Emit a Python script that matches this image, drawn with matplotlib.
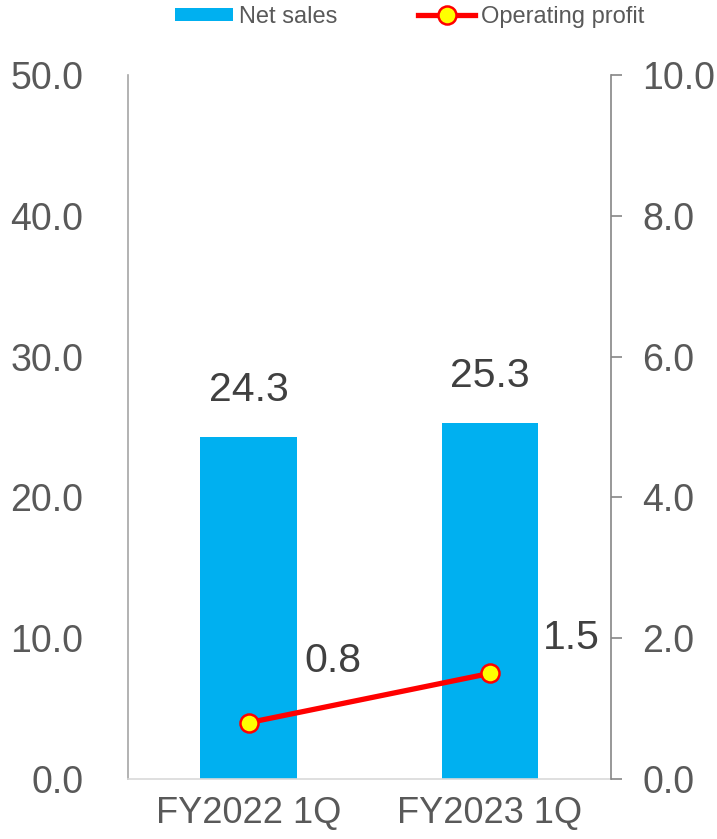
import matplotlib
matplotlib.use("Agg")
import matplotlib.pyplot as plt
from matplotlib.lines import Line2D
from matplotlib.patches import Patch

plt.rcParams['font.family'] = ['Liberation Sans', 'DejaVu Sans']

categories = ["FY2022 1Q", "FY2023 1Q"]
net_sales = [24.3, 25.3]
operating_profit = [0.8, 1.5]
left_ticks = [0, 10, 20, 30, 40, 50]
right_ticks = [0, 2, 4, 6, 8, 10]

# label offsets (pixels) - style only
bar_label_offset = 47
op_label_offsets = [(84, 62), (81, 35)]

W, H = 717, 839
fig = plt.figure(figsize=(W / 100, H / 100), dpi=100)
ax = fig.add_axes([128 / W, 1 - 779 / H, (610.5 - 128) / W, (779 - 75) / H])
ax2 = ax.twinx()

x = list(range(len(categories)))
ax.bar(x, net_sales, width=0.4, color="#00B0F0", zorder=2)
ax.set_xlim(-0.5, 1.5)
ax.set_ylim(0, 50)
ax.set_yticks(left_ticks)
ax.set_yticklabels([f"{v:.1f}" for v in left_ticks])
ax.set_xticks(x)
ax.set_xticklabels(categories)

ax2.plot(x, operating_profit, color="#FF0000", lw=3.8, marker="o", ms=13,
         mfc="#FFFF00", mec="#FF0000", mew=1.8, zorder=3)
ax2.set_ylim(0, 10)
ax2.set_yticks(right_ticks)
ax2.set_yticklabels([f"{v:.1f}" for v in right_ticks])

tick_color = "#595959"
for a in (ax, ax2):
    for s in a.spines.values():
        s.set_visible(False)
    a.tick_params(labelsize=27, colors=tick_color)
ax.tick_params(axis='x', labelsize=26)

ax.spines['left'].set_visible(True)
ax.spines['left'].set_color("#A6A6A6")
ax.spines['left'].set_linewidth(1.2)
ax.spines['bottom'].set_visible(True)
ax.spines['bottom'].set_color("#D9D9D9")
ax.spines['bottom'].set_linewidth(1.2)
ax.tick_params(axis='y', length=0, pad=32)
ax.tick_params(axis='x', length=0, pad=12)
ax2.spines['right'].set_visible(True)
ax2.spines['right'].set_color("#868686")
ax2.spines['right'].set_linewidth(1.2)
ax2.tick_params(axis='y', length=7.8, width=1.2, color="#868686", direction='out', pad=15)

for xi, v in zip(x, net_sales):
    ax.annotate(f"{v:.1f}", (xi, v), xytext=(0, bar_label_offset), textcoords='offset pixels',
                ha='center', va='center', fontsize=29.5, color="#404040")
for xi, v, (dx, dy) in zip(x, operating_profit, op_label_offsets):
    ax2.annotate(f"{v:.1f}", (xi, v), xytext=(dx, dy), textcoords='offset pixels',
                 ha='center', va='center', fontsize=29.5, color="#404040")

handles = [Patch(facecolor="#00B0F0", edgecolor="none"),
           Line2D([0], [0], color="#FF0000", lw=3.8, marker="o", ms=13,
                  mfc="#FFFF00", mec="#FF0000", mew=1.8)]
fig.legend(handles, ["Net sales", "Operating profit"], loc='center',
           bbox_to_anchor=(410 / W, 1 - 17 / H), ncol=2, frameon=False,
           fontsize=17, labelcolor="#595959", handlelength=2.45, handletextpad=0.25,
           columnspacing=3.4, handleheight=0.5)

fig.savefig("out.png", dpi=100)
